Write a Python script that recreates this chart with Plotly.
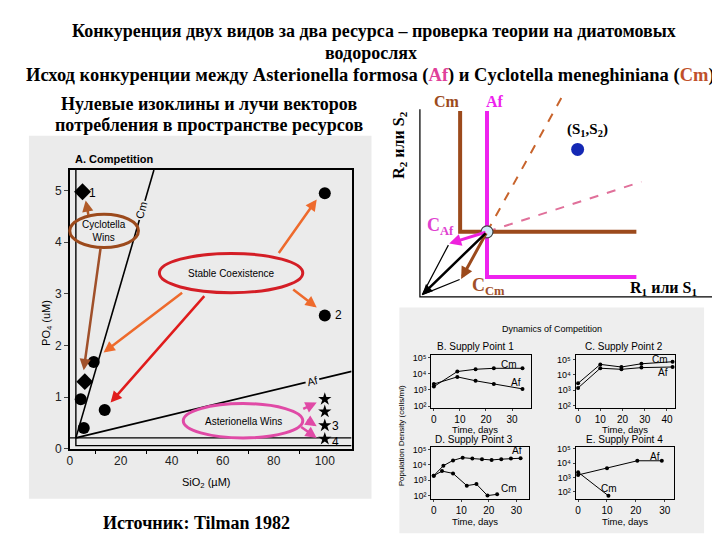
import plotly.graph_objects as go

W, H = 720, 540
def PX(x): return x / W
def PY(y): return 1 - y / H

# ---------------- Panel A: competition (SiO2 vs PO4) ----------------
circle_si = [100, 100, 9.4, 4.3, 13.7, 5.5]
circle_po4 = [4.95, 2.58, 1.68, 0.96, 0.75, 0.40]
diamond_si = [5.0, 5.9]
diamond_po4 = [4.98, 1.30]
star_si = [100, 100, 100, 100]
star_po4 = [0.96, 0.72, 0.45, 0.19]
cm_iso_si = [0.0, 110.5]
cm_iso_po4 = [0.21, 0.21]
af_iso_si = [2.4, 2.4, 110.5]
af_iso_po4 = [5.4, 0.06, 0.06]
cm_ray_si = [2.4, 33.0]
cm_ray_po4 = [0.21, 5.4]
af_ray_si = [2.4, 110.5]
af_ray_po4 = [0.21, 1.50]
x_ticks_A = [0, 20, 40, 60, 80, 100]
y_ticks_A = [0, 1, 2, 3, 4, 5]

# ---------------- Schematic (resource space) ----------------
sch_axis_x = [0, 0, 305]
sch_axis_y = [192, 0, 0]
sch_cm_x = [41, 41, 218]
sch_cm_y = [190, 67, 67]
sch_af_x = [68, 68, 218]
sch_af_y = [190, 21, 21]
sch_cm_ray_x = [68, 143]
sch_cm_ray_y = [67, 204]
sch_af_ray_x = [68, 223]
sch_af_ray_y = [67, 118]
supply_x = [159]
supply_y = [151]
eq_x = [68]
eq_y = [67]

# ---------------- Dynamics panels (log10 cells/ml) ----------------
B_cm_day = [0, 9, 16, 23, 34]
B_cm_log = [3.20, 4.13, 4.27, 4.33, 4.33]
B_af_day = [0, 9, 16, 23, 34]
B_af_log = [3.36, 3.80, 3.56, 3.36, 3.06]
C_cm_day = [0, 10, 19.5, 28.5, 42.5]
C_cm_log = [3.45, 4.68, 4.51, 4.72, 4.85]
C_af_day = [0, 10, 19.5, 28.5, 42.5]
C_af_log = [3.15, 4.43, 4.36, 4.47, 4.51]
D_af_day = [0, 3.5, 7, 10.5, 14, 17.5, 21, 24.5, 28, 31.5]
D_af_log = [3.30, 3.95, 4.30, 4.48, 4.42, 4.38, 4.33, 4.38, 4.42, 4.44]
D_cm_day = [0, 3, 7, 12, 15.5, 19.5, 23]
D_cm_log = [3.30, 3.60, 3.45, 2.65, 2.75, 2.00, 2.08]
E_af_day = [0, 10, 20.5, 29]
E_af_log = [3.17, 3.63, 4.16, 4.16]
E_cm_day = [0, 10.5]
E_cm_log = [3.36, 1.71]
log_tickvals = [100, 1000, 10000, 100000]
log_ticktext = ["10²", "10³", "10⁴", "10⁵"]

BROWN = "#9c4a1c"
MAG = "#ee22ee"
SANS = "Liberation Sans"
SERIF = "Liberation Serif"

fig = go.Figure()

# Panel A traces
line_k = dict(color="black", width=1.4)
fig.add_trace(go.Scatter(x=cm_iso_si, y=cm_iso_po4, mode="lines", line=line_k, xaxis="x", yaxis="y"))
fig.add_trace(go.Scatter(x=af_iso_si, y=af_iso_po4, mode="lines", line=line_k, xaxis="x", yaxis="y"))
fig.add_trace(go.Scatter(x=cm_ray_si, y=cm_ray_po4, mode="lines", line=dict(color="black", width=1.6), xaxis="x", yaxis="y"))
fig.add_trace(go.Scatter(x=af_ray_si, y=af_ray_po4, mode="lines", line=dict(color="black", width=1.8), xaxis="x", yaxis="y"))
fig.add_trace(go.Scatter(x=circle_si, y=circle_po4, mode="markers", marker=dict(symbol="circle", size=12, color="black"), xaxis="x", yaxis="y", cliponaxis=False))
fig.add_trace(go.Scatter(x=diamond_si, y=diamond_po4, mode="markers", marker=dict(symbol="diamond", size=13, color="black"), xaxis="x", yaxis="y", cliponaxis=False))
fig.add_trace(go.Scatter(x=star_si, y=star_po4, mode="markers", marker=dict(symbol="star", size=10, color="black"), xaxis="x", yaxis="y", cliponaxis=False))

# Schematic traces
fig.add_trace(go.Scatter(x=sch_axis_x, y=sch_axis_y, mode="lines", line=dict(color="black", width=2.5), xaxis="x2", yaxis="y2"))
fig.add_trace(go.Scatter(x=sch_cm_ray_x, y=sch_cm_ray_y, mode="lines", line=dict(color="#c8642c", width=2, dash="dash"), xaxis="x2", yaxis="y2"))
fig.add_trace(go.Scatter(x=sch_af_ray_x, y=sch_af_ray_y, mode="lines", line=dict(color="#e0709a", width=2, dash="dash"), xaxis="x2", yaxis="y2"))
fig.add_trace(go.Scatter(x=sch_cm_x, y=sch_cm_y, mode="lines", line=dict(color=BROWN, width=4), xaxis="x2", yaxis="y2"))
fig.add_trace(go.Scatter(x=sch_af_x, y=sch_af_y, mode="lines", line=dict(color=MAG, width=4), xaxis="x2", yaxis="y2"))
fig.add_trace(go.Scatter(x=supply_x, y=supply_y, mode="markers", marker=dict(size=13, color="#1428b4"), xaxis="x2", yaxis="y2"))

# Dynamics traces
def dyn(xs, ys, xa, ya):
    fig.add_trace(go.Scatter(x=xs, y=[10 ** v for v in ys], mode="lines+markers",
                             line=dict(color="black", width=1), marker=dict(size=4, color="black"),
                             xaxis=xa, yaxis=ya, cliponaxis=False))
dyn(B_cm_day, B_cm_log, "x3", "y3"); dyn(B_af_day, B_af_log, "x3", "y3")
dyn(C_cm_day, C_cm_log, "x4", "y4"); dyn(C_af_day, C_af_log, "x4", "y4")
dyn(D_af_day, D_af_log, "x5", "y5"); dyn(D_cm_day, D_cm_log, "x5", "y5")
dyn(E_af_day, E_af_log, "x6", "y6"); dyn(E_cm_day, E_cm_log, "x6", "y6")

# ---------------- Axes ----------------
def dom_x(a, b): return [a / W, b / W]
def dom_y(top, bot): return [1 - bot / H, 1 - top / H]

lay = dict(
    xaxis=dict(domain=dom_x(59, 342), range=[0, 110.5], anchor="y", showline=True, mirror=True,
               linecolor="black", linewidth=1.5, showgrid=False, zeroline=False,
               tickvals=x_ticks_A, ticks="", tickfont=dict(family=SANS, size=12, color="#222"),
               minor=dict(tickvals=[10, 30, 50, 70, 90], ticks="outside", ticklen=4, tickcolor="black")),
    yaxis=dict(domain=dom_y(162, 446), range=[0, 5.4], anchor="x", showline=True, mirror=True,
               linecolor="black", linewidth=1.5, showgrid=False, zeroline=False,
               tickvals=y_ticks_A, ticks="outside", ticklen=4, tickfont=dict(family=SANS, size=12, color="#222")),
    xaxis2=dict(domain=dom_x(410, 715), range=[0, 305], anchor="y2", visible=False),
    yaxis2=dict(domain=dom_y(80, 292), range=[0, 212], anchor="x2", visible=False),
)
panels = [("3", (422, 522, 350, 404), [-1, 37.2], [1.91, 5.18], [0, 10, 20, 30]),
          ("4", (567, 667, 350, 404), [-1.1, 43.7], [1.88, 5.32], [0, 10, 20, 30, 40]),
          ("5", (422, 520, 444, 497), [-0.9, 34.5], [1.79, 5.19], [0, 10, 20, 30]),
          ("6", (567, 666, 444, 497), [-0.86, 33.3], [1.5, 5.14], [0, 10, 20, 30])]
for k, (l, r, t, b), xr, yr, xt in panels:
    lay["xaxis" + k] = dict(domain=dom_x(l, r), range=xr, anchor="y" + k, showline=True, mirror=True,
                            linecolor="black", linewidth=1, showgrid=False, zeroline=False,
                            tickvals=xt, ticks="outside", ticklen=2, tickfont=dict(family=SANS, size=10, color="black"))
    lay["yaxis" + k] = dict(domain=dom_y(t, b), range=yr, type="log", anchor="x" + k, showline=True, mirror=True,
                            linecolor="black", linewidth=1, showgrid=False, zeroline=False,
                            tickvals=log_tickvals, ticktext=log_ticktext, ticks="outside", ticklen=2,
                            tickfont=dict(family=SANS, size=9, color="black"))

# ---------------- Shapes ----------------
def rect(x0, y0, x1, y1, color):
    return dict(type="rect", xref="paper", yref="paper", x0=PX(x0), x1=PX(x1), y0=PY(y1), y1=PY(y0),
                fillcolor=color, line=dict(width=0), layer="below")
def ell(x0, y0, x1, y1, color):
    return dict(type="circle", xref="paper", yref="paper", x0=PX(x0), x1=PX(x1), y0=PY(y1), y1=PY(y0),
                line=dict(color=color, width=3), layer="above")
shapes = [rect(18, 127, 362, 497, "#ebebeb"), rect(390, 302, 696, 532, "#eeeeee"),
          ell(59, 207, 128, 241, "#9c4a1c"), ell(149, 247, 293, 287, "#d41e26"),
          ell(173, 400, 293, 435, "#e04aa6")]

# ---------------- Annotations ----------------
ann = []
def txt(x, y, s, size=12, color="black", family=SANS, xanchor="center", yanchor="middle", angle=0, bg=None):
    d = dict(x=PX(x), y=PY(y), xref="paper", yref="paper", text=s, showarrow=False,
             font=dict(family=family, size=size, color=color), xanchor=xanchor, yanchor=yanchor, textangle=angle)
    if bg: d["bgcolor"] = bg
    ann.append(d)
def arrow(tx, ty, hx, hy, color, width=2.5, size=0.9, head=2):
    ann.append(dict(x=PX(hx), y=PY(hy), xref="paper", yref="paper", ax=tx - hx, ay=ty - hy,
                    axref="pixel", ayref="pixel", text="", showarrow=True, arrowcolor=color,
                    arrowwidth=width, arrowsize=size, arrowhead=head))

# titles
txt(365, 20, "<b>Конкуренция двух видов за два ресурса – проверка теории на диатомовых</b>", 18, family=SERIF)
txt(362, 43, "<b>водорослях</b>", 18, family=SERIF)
txt(361, 66, "<b>Исход конкуренции между Asterionella formosa (<span style='color:#e0409a'>Af</span>) и Cyclotella meneghiniana (<span style='color:#c0502a'>Cm</span>)</b>", 18.5, family=SERIF)
txt(199, 95, "<b>Нулевые изоклины и лучи векторов</b>", 18, family=SERIF)
txt(199, 116, "<b>потребления в пространстве ресурсов</b>", 18, family=SERIF)
txt(186, 522, "<b>Источник: Tilman 1982</b>", 18, family=SERIF)

# Panel A labels
txt(62, 151, "<b>A. Competition</b>", 11, xanchor="left")
txt(36, 318, "PO<sub>4</sub> (uM)", 11, angle=-90)
txt(196, 481, "SiO<sub>2</sub> (µM)", 11)
txt(131, 203, "Cm", 11, angle=-74, bg="#ebebeb")
txt(303, 377, "Af", 11, angle=-14, bg="#ebebeb")
txt(82, 185, "1", 12)
txt(329, 310, "2", 12)
txt(326, 423, "3", 12)
txt(326, 439, "4", 12)
txt(93, 224, "Cyclotella<br>Wins", 10)
txt(221, 267, "Stable Coexistence", 10)
txt(233, 418, "Asterionella Wins", 10)
arrow(78, 209, 75, 193, "#b05a28")
arrow(90, 243, 73, 366, "#a0502a")
arrow(173, 287, 93, 348, "#ee6a2c")
arrow(195, 291, 100, 399, "#e01c1c")
arrow(268, 247, 307, 192, "#ee6a2c")
arrow(282, 283, 307, 302, "#ee6a2c")
arrow(292, 406, 307, 399, "#e04aa6")
arrow(296, 416, 307, 423, "#e04aa6")
arrow(290, 423, 307, 435, "#e04aa6")

# Schematic labels
txt(438, 92, "<b>Cm</b>", 16, BROWN, SERIF)
txt(486, 92, "<b>Af</b>", 16, MAG, SERIF)
txt(390, 137, "<b>R<sub>2</sub> или S<sub>2</sub></b>", 16, family=SERIF, angle=-90)
txt(655, 283, "<b>R<sub>1</sub> или S<sub>1</sub></b>", 16, family=SERIF)
txt(579, 121, "<b>(S<sub>1</sub>,S<sub>2</sub>)</b>", 15, family=SERIF)
txt(431, 220, "<b>C<sub>Af</sub></b>", 18, "#e040d0", SERIF)
txt(479, 281, "<b>C<sub>Cm</sub></b>", 18, "#a0502a", SERIF)
for (tx, ty, hx, hy, col, w) in [(68, 67, 30, 55, "#ee22dd", 3), (68, 67, 42, 19, BROWN, 3), (68, 67, 3, 3, "black", 2.5)]:
    ann.append(dict(x=hx, y=hy, ax=tx, ay=ty, xref="x2", yref="y2", axref="x2", ayref="y2", text="",
                    showarrow=True, arrowcolor=col, arrowwidth=w, arrowsize=0.8, arrowhead=2))
for (tx, ty) in [(30, 55), (42, 19)]:
    ann.append(dict(x=3, y=3, ax=tx, ay=ty, xref="x2", yref="y2", axref="x2", ayref="y2", text="",
                    showarrow=True, arrowcolor="black", arrowwidth=1.2, arrowsize=1, arrowhead=0))
fig.add_trace(go.Scatter(x=eq_x, y=eq_y, mode="markers", marker=dict(size=12, color="#d0ecfa", line=dict(color="#444", width=1.2)), xaxis="x2", yaxis="y2"))

# Dynamics labels
txt(543, 324, "Dynamics of Competition", 9)
txt(393, 433, "Population Density (cells/ml)", 8, angle=-90)
txt(466, 342, "B. Supply Point 1", 10)
txt(616, 342, "C. Supply Point 2", 10)
txt(465, 437, "D. Supply Point 3", 10)
txt(616, 437, "E. Supply Point 4", 10)
for x in (466, 617):
    txt(x, 426, "Time, days", 9.5)
    txt(x, 520, "Time, days", 9.5)
txt(500, 360, "Cm", 10); txt(507, 379, "Af", 10)
txt(652, 355, "Cm", 10); txt(655, 368, "Af", 10)
txt(508, 448, "Af", 10); txt(500, 487, "Cm", 10)
txt(647, 454, "Af", 10); txt(601, 486, "Cm", 10)

fig.update_layout(width=W, height=H, margin=dict(l=0, r=0, t=0, b=0), showlegend=False,
                  paper_bgcolor="white", plot_bgcolor="rgba(0,0,0,0)", shapes=shapes, annotations=ann, **lay)
fig.write_html("out.html")
